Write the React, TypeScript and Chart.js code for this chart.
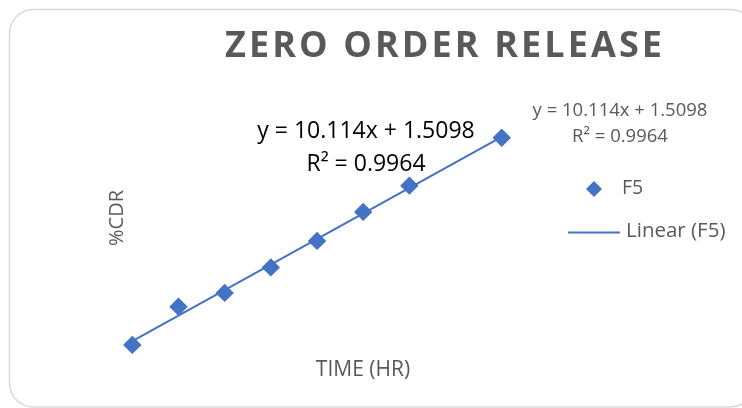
import React, { useEffect, useRef } from "react";
import { Chart, registerables } from "chart.js";

Chart.register(...registerables);

// ---- data ----
const timeHr = [0, 1, 2, 3, 4, 5, 6, 8];
const cdrF5 = [0, 15.1, 20.6, 30.7, 41.2, 52.7, 63.1, 82.1];
const trendSlope = 10.114;
const trendIntercept = 1.5098;
const trendR2 = 0.9964;
const seriesName = "F5";
const chartTitle = "ZERO ORDER RELEASE";
const xTitle = "TIME (HR)";
const yTitle = "%CDR";
const xRange = [0, 9];
const yRange = [0, 100];

const BLUE = "#4472C4";
const GRAY = "#595959";
const FONT = '"Open Sans", "DejaVu Sans", sans-serif';

const eqText = `y = ${trendSlope}x + ${trendIntercept}`;
const r2Text = `R² = ${trendR2}`;

const decorPlugin = {
  id: "decor",
  beforeDraw(chart: any) {
    const ctx = chart.ctx as CanvasRenderingContext2D;
    ctx.save();
    ctx.fillStyle = "#ffffff";
    ctx.fillRect(0, 0, chart.width, chart.height);
    ctx.strokeStyle = "#d9d9d9";
    ctx.lineWidth = 1.5;
    ctx.beginPath();
    (ctx as any).roundRect(9.5, 9.5, 745, 397.5, 24);
    ctx.stroke();
    ctx.restore();
  },
  afterDraw(chart: any) {
    const ctx = chart.ctx as CanvasRenderingContext2D;
    ctx.save();
    // title with letter spacing fitted to the reference width
    ctx.font = `bold 36px ${FONT}`;
    (ctx as any).letterSpacing = "0px";
    const w0 = ctx.measureText(chartTitle).width;
    const spacing = (437 - w0) / (chartTitle.length - 1);
    (ctx as any).letterSpacing = `${spacing}px`;
    ctx.fillStyle = GRAY;
    ctx.textAlign = "left";
    ctx.textBaseline = "alphabetic";
    ctx.fillText(chartTitle, 225, 57);
    (ctx as any).letterSpacing = "0px";

    // big equation label on the plot
    ctx.fillStyle = "#000000";
    ctx.font = `23px ${FONT}`;
    ctx.textAlign = "center";
    ctx.fillText(eqText, 366, 137.5);
    ctx.fillText(r2Text, 366, 170.5);

    // axis titles
    ctx.fillStyle = GRAY;
    ctx.font = `21px ${FONT}`;
    ctx.fillText(xTitle, 363, 376);
    ctx.save();
    ctx.translate(123, 218);
    ctx.rotate(-Math.PI / 2);
    ctx.textAlign = "center";
    ctx.font = `20px ${FONT}`;
    ctx.fillText(yTitle, 0, 0);
    ctx.restore();

    // legend area
    ctx.font = `18.5px ${FONT}`;
    ctx.textAlign = "center";
    ctx.fillText(eqText, 620, 116);
    ctx.fillText(r2Text, 620, 141.5);

    ctx.fillStyle = BLUE;
    ctx.beginPath();
    ctx.moveTo(594, 181);
    ctx.lineTo(602, 189);
    ctx.lineTo(594, 197);
    ctx.lineTo(586, 189);
    ctx.closePath();
    ctx.fill();

    ctx.strokeStyle = BLUE;
    ctx.lineWidth = 2;
    ctx.beginPath();
    ctx.moveTo(568, 232.5);
    ctx.lineTo(620, 232.5);
    ctx.stroke();

    ctx.fillStyle = GRAY;
    ctx.font = `19.5px ${FONT}`;
    ctx.textAlign = "left";
    ctx.fillText(seriesName, 622, 194);
    ctx.font = `20.5px ${FONT}`;
    ctx.fillText(`Linear (${seriesName})`, 626, 236.5);
    ctx.restore();
  },
};

export default function App() {
  const canvasRef = useRef<HTMLCanvasElement | null>(null);

  useEffect(() => {
    if (!canvasRef.current) return;
    const x0 = timeHr[0];
    const x1 = timeHr[timeHr.length - 1];
    const chart = new Chart(canvasRef.current, {
      type: "scatter",
      data: {
        datasets: [
          {
            label: `Linear (${seriesName})`,
            type: "line",
            data: [
              { x: x0, y: trendSlope * x0 + trendIntercept },
              { x: x1, y: trendSlope * x1 + trendIntercept },
            ],
            borderColor: BLUE,
            borderWidth: 2,
            pointRadius: 0,
            fill: false,
            clip: false,
          } as any,
          {
            label: seriesName,
            data: timeHr.map((t, i) => ({ x: t, y: cdrF5[i] })),
            backgroundColor: BLUE,
            borderColor: BLUE,
            pointStyle: "rectRot",
            pointRadius: 9.2,
            borderWidth: 0,
            clip: false,
          } as any,
        ],
      },
      options: {
        animation: false,
        responsive: false,
        events: [],
        layout: {
          padding: { left: 132.3, right: 194.1, top: 92.5, bottom: 63.1 },
        },
        scales: {
          x: { type: "linear", min: xRange[0], max: xRange[1], display: false },
          y: { type: "linear", min: yRange[0], max: yRange[1], display: false },
        },
        plugins: {
          legend: { display: false },
          title: { display: false },
          tooltip: { enabled: false },
        },
      },
      plugins: [decorPlugin],
    });
    return () => chart.destroy();
  }, []);

  return (
    <div style={{ position: "fixed", left: 0, top: 0, width: 742, height: 408 }}>
      <canvas ref={canvasRef} width={742} height={408} />
    </div>
  );
}
